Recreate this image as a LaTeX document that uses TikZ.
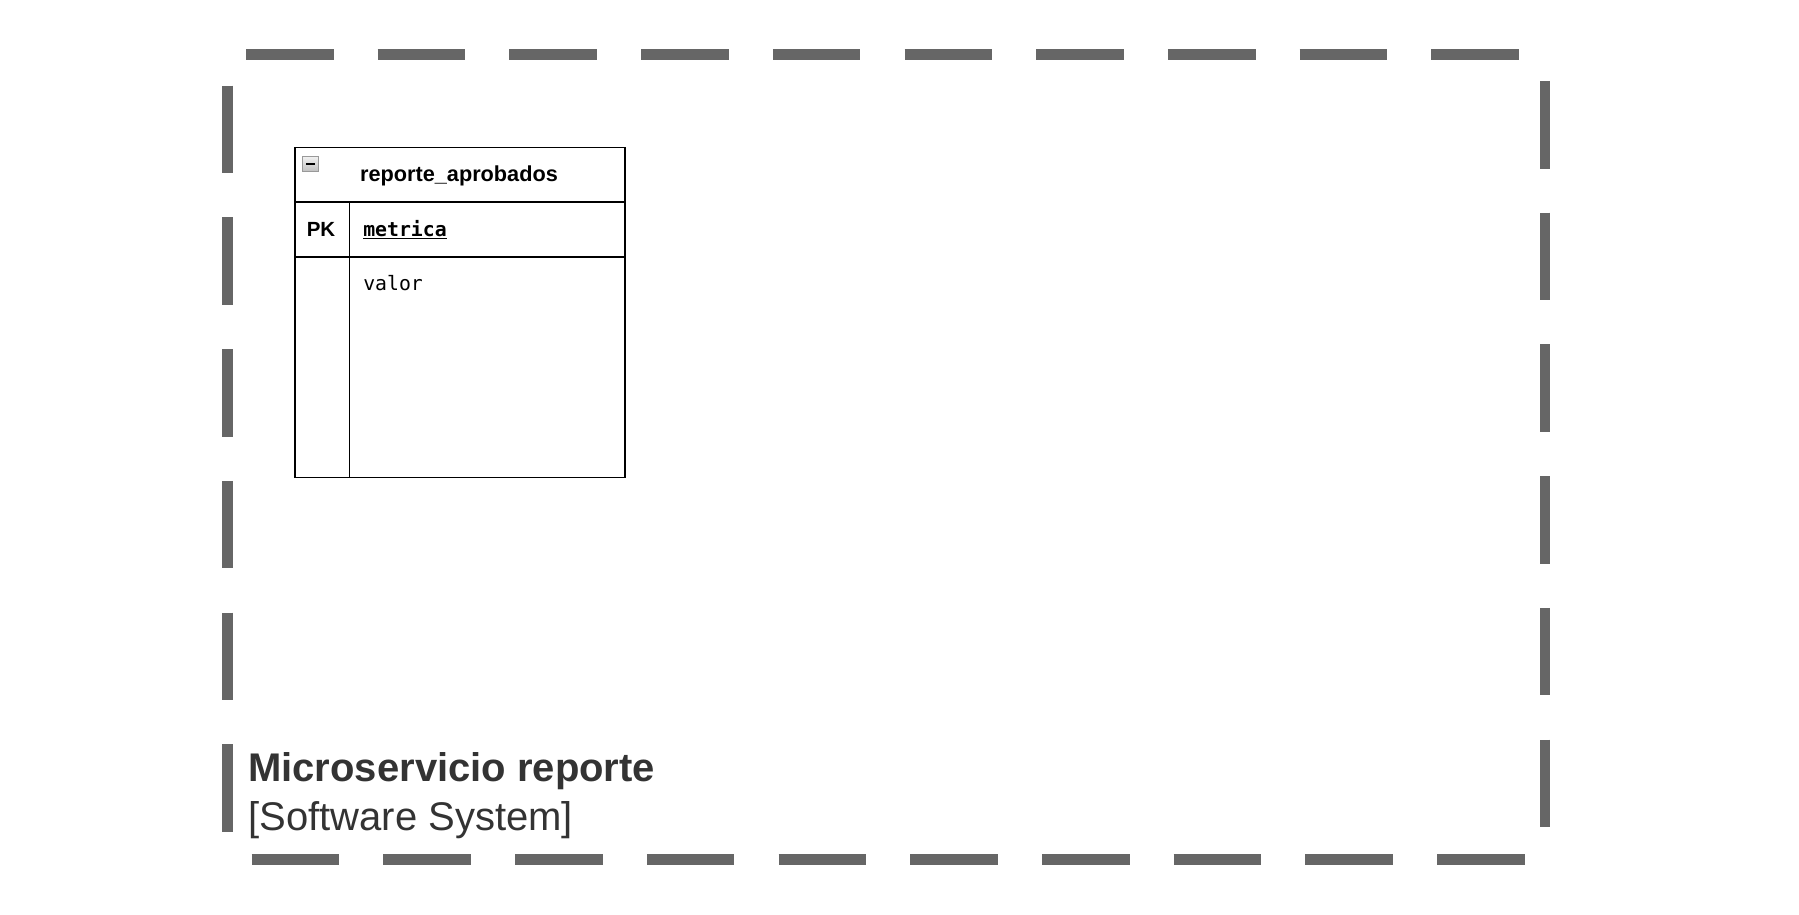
\documentclass[tikz,border=0pt]{standalone}
\usepackage{fontspec}
\setmainfont{Liberation Sans}
\newfontfamily\monof{DejaVu Sans Mono}
\definecolor{dashgray}{HTML}{666666}
\definecolor{titlegray}{HTML}{333333}
\begin{document}
\begin{tikzpicture}[x=1pt,y=-1pt,
  bdash/.style={draw=dashgray, line width=10.7pt, dash pattern=on 87.6pt off 44.1pt},
  tline/.style={draw=black, line width=1.6pt},
  txt/.style={inner sep=0pt, outer sep=0pt},
  hdrfont/.style={font=\fontsize{21.7}{26}\selectfont\bfseries},
  monofont/.style={font=\fontsize{19.8}{24}\selectfont\monof},
  titlefont/.style={font=\fontsize{40}{48}\selectfont, text=titlegray}]
\useasboundingbox (0,0) rectangle (1799,915);
% dashed system boundary
\draw[bdash] (246,54.7) -- (1519.4,54.7);
\draw[bdash] (1545,81) -- (1545,827.1);
\draw[bdash] (251.7,859.7) -- (1525.1,859.7);
\draw[bdash] (227.7,85.7) -- (227.7,831.8);
% table
\node[tline, anchor=north west, minimum width=330pt, minimum height=330pt, inner sep=0pt] (tbl) at (294,146.7) {};
\coordinate (h1) at (294,201.7);
\coordinate (h2) at (624,201.7);
\coordinate (r1) at (294,256.7);
\coordinate (r2) at (624,256.7);
\coordinate (v1) at (349.3,201.7);
\coordinate (v2) at (349.3,476.7);
\draw[tline] (h1) -- (h2);
\draw[tline] (r1) -- (r2);
\draw[tline] (v1) -- (v2);
% collapse icon
\node[draw=gray!80, line width=0.9pt, top color=gray!10, bottom color=gray!50, minimum size=15.5pt, inner sep=0pt] (icon) at (310.5,163.8) {};
\draw[black, line width=1.8pt] ([xshift=-4.5pt]icon.center) -- ([xshift=4.5pt]icon.center);
\node[txt, hdrfont, anchor=base] (hdr) at (459,181.7) {reporte\_aprobados};
\node[txt, font=\fontsize{20.5}{24}\selectfont\bfseries, anchor=base] (pk) at (321,236) {PK};
\node[txt, font=\fontsize{19.8}{24}\selectfont\monof\bfseries, anchor=base west] (met) at (363.3,236.5) {\underline{metrica}};
\node[txt, monofont, anchor=base west] (val) at (363.3,290.7) {valor};
% title
\node[txt, titlefont, font=\fontsize{40}{48}\selectfont\bfseries, anchor=base west] (title) at (248.3,781.7) {Microservicio reporte};
\node[txt, titlefont, anchor=base west] (sub) at (248.3,830) {[Software System]};
\end{tikzpicture}
\end{document}
